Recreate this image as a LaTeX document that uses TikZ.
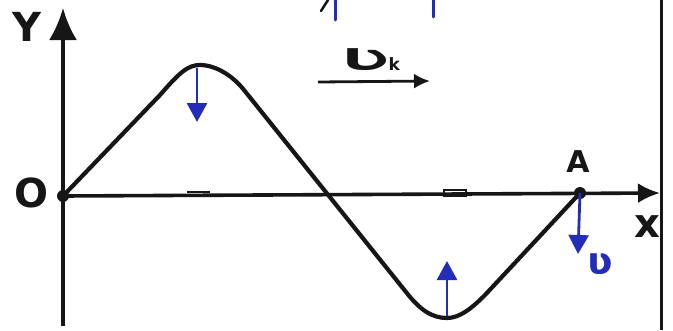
\documentclass[tikz,border=0pt]{standalone}
\usepackage{fontspec}
\usepackage{graphicx}
\setmainfont{DejaVu Sans}
\usetikzlibrary{arrows.meta}
\definecolor{ink}{RGB}{22,22,22}
\definecolor{blueink}{RGB}{35,45,185}
\tikzset{
  axisline/.style={line width=3.6pt, draw=ink},
  curveline/.style={line width=4.2pt, draw=ink, line join=round, line cap=round},
  bluearrow/.style={line width=2.8pt, draw=blueink, fill=blueink, -{Triangle[length=19pt,width=20pt]}},
  bluefrag/.style={line width=3pt, draw=blueink, line cap=round},
  lbl/.style={font=\bfseries\fontsize{40}{40}\selectfont, text=ink, inner sep=0pt},
  smalllbl/.style={font=\bfseries\fontsize{30}{30}\selectfont, text=ink, inner sep=0pt},
  bluelbl/.style={font=\bfseries\fontsize{38}{38}\selectfont, text=blueink, inner sep=0pt},
  dotmark/.style={circle, fill=ink, inner sep=0pt, minimum size=12pt},
  blob/.style={line width=2pt, draw=ink},
}
\begin{document}
\begin{tikzpicture}[x=1pt,y=-1pt]
\useasboundingbox (0,0) rectangle (673,330);
% key points
\coordinate (O) at (63,196);
\coordinate (A) at (580,193);
\coordinate (yb) at (63,326);
\coordinate (yt) at (63,8);
\coordinate (xe) at (660,193);
\coordinate (bt) at (661,0);
\coordinate (bb) at (661,330);
% border line at right
\draw[line width=3pt, draw=ink] (bt) -- (bb);
% axes
\draw[axisline, -{Latex[length=32pt,width=28pt]}] (yb) -- (yt);
\draw[axisline, -{Latex[length=22pt,width=20pt]}] (O) -- (xe);
% small marks on the x axis
\coordinate (m1a) at (187,192);
\coordinate (m1b) at (210,192);
\draw[blob] (m1a) -- (m1b);
\coordinate (m2a) at (444,190);
\coordinate (m2b) at (466,196);
\draw[blob] (m2a) rectangle (m2b);
% wave
\draw[curveline] (O) -- (160,95) .. controls (180,72) and (188,65) .. (200,65)
  .. controls (215,65) and (232,75) .. (244,90) -- (406,292)
  .. controls (420,310) and (432,318) .. (447,318)
  .. controls (460,318) and (472,308) .. (485,295) -- (A);
% dots
\node[dotmark] (Odot) at (O) {};
\node[dotmark] (Adot) at (A) {};
% blue velocity arrows
\coordinate (p1s) at (197,68);
\coordinate (p1e) at (197,122);
\coordinate (p2s) at (447,316);
\coordinate (p2e) at (447,261);
\coordinate (Ae) at (578,254);
\draw[bluearrow] (p1s) -- (p1e);
\draw[bluearrow] (p2s) -- (p2e);
\draw[bluearrow] (Adot.center) -- (Ae);
% propagation arrow
\coordinate (k1) at (318,82);
\coordinate (k2) at (430,81);
\draw[line width=2.8pt, draw=ink, -{Latex[length=16pt,width=15pt]}] (k1) -- (k2);
\node[smalllbl, anchor=base] (vk) at (371,70) {\scalebox{1.9}[1]{Ʋ}\fontsize{17}{17}\selectfont k};
% labels
\node[lbl] (ylab) at (27,27) {Y};
\node[lbl] (olab) at (32,193) {O};
\node[smalllbl] (alab) at (578,162) {A};
\node[lbl] (xlab) at (647,227) {x};
\node[bluelbl] (ulab) at (600,264) {ʋ};
% cut-off fragments at the top edge
\coordinate (t1a) at (335,0);
\coordinate (t1b) at (335,20);
\coordinate (t2a) at (433,0);
\coordinate (t2b) at (433,17);
\coordinate (c1) at (328,0);
\coordinate (c2) at (321,11);
\draw[bluefrag] (t1a) -- (t1b);
\draw[bluefrag] (t2a) -- (t2b);
\draw[line width=2.5pt, draw=ink, line cap=round] (c1) -- (c2);
\end{tikzpicture}
\end{document}
